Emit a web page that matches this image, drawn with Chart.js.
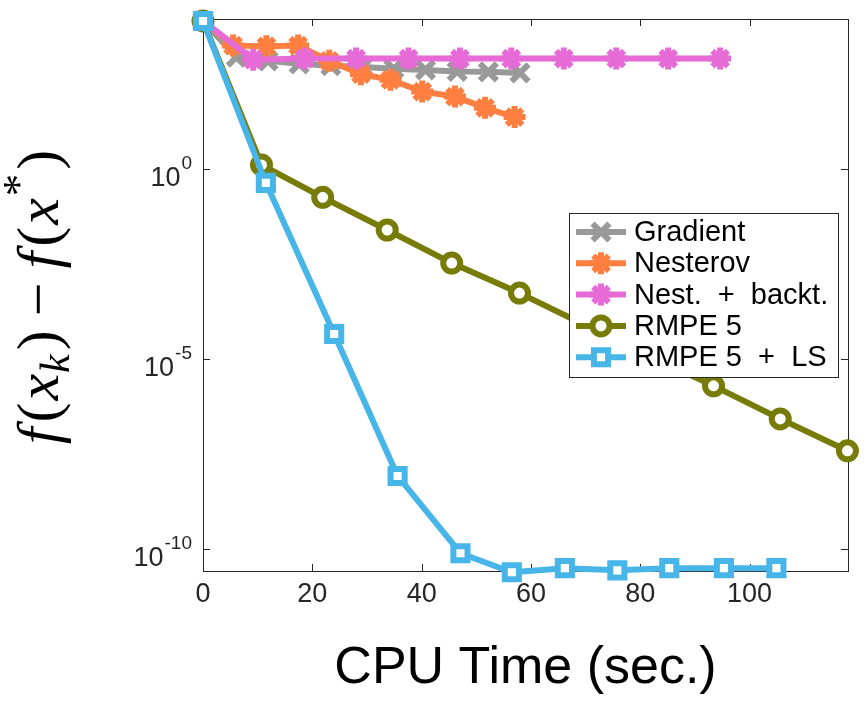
<!DOCTYPE html>
<html>
<head>
<meta charset="utf-8">
<script src="https://cdn.jsdelivr.net/npm/chart.js@4.4.1/dist/chart.umd.min.js"></script>
<style>
  html, body { margin: 0; padding: 0; background: #fff; }
  #wrap { width: 866px; height: 702px; }
</style>
</head>
<body>
<div id="wrap"><canvas id="chart" width="866" height="702"></canvas></div>
<script>
// ── values (x: CPU seconds, y: f(x_k) - f(x*))
const seriesNames = ['Gradient', 'Nesterov', 'Nest.  +  backt.', 'RMPE 5', 'RMPE 5  +  LS'];

const gradTime = [0, 6.1, 11.9, 17.6, 23.4, 29.2, 34.9, 40.7, 46.5, 52.2, 58.0];
const gradVals = [7.9e3, 891, 708, 589, 525, 490, 437, 407, 372, 363, 339];

const nestTime = [0, 5.5, 11.6, 17.4, 23.1, 28.9, 34.3, 40.1, 46.1, 51.6, 57.0];
const nestVals = [7.9e3, 1778, 1698, 1778, 708, 316, 224, 110, 81, 41, 23.4];

const backTime = [0, 9.2, 18.6, 28.0, 37.6, 47.0, 56.4, 66.0, 75.6, 85.1, 94.6];
const backVals = [7.9e3, 759, 813, 813, 813, 813, 813, 813, 813, 813, 813];

const rmpeTime = [0, 10.7, 21.9, 33.7, 45.5, 57.9, 69.6, 81.5, 93.4, 105.6, 117.9];
const rmpeVals = [7.9e3, 1.29, 0.182, 0.0251, 3.39e-3, 5.5e-4, 8.3e-5, 1.26e-5, 2.0e-6, 2.7e-7, 3.9e-8];

const lsTime = [0, 11.5, 24.0, 35.6, 47.1, 56.5, 66.2, 75.8, 85.3, 95.3, 104.9];
const lsVals = [7.9e3, 0.437, 4.6e-5, 8.5e-9, 7.9e-11, 2.5e-11, 3.2e-11, 2.8e-11, 3.2e-11, 3.2e-11, 3.2e-11];

const xTicks = [0, 20, 40, 60, 80, 100];
const yTicks = [1e-10, 1e-5, 1];
const yTickExp = ['-10', '-5', '0'];

const xLabel = 'CPU Time (sec.)';

function pts(t, v) { return t.map((x, i) => ({ x: x, y: v[i] })); }

function series(i, t, v, color, style, r, bw, fill, order) {
  return {
    label: seriesNames[i],
    data: pts(t, v),
    borderColor: color,
    borderWidth: 6,
    borderJoinStyle: 'round',
    pointStyle: style,
    pointRadius: r,
    pointHoverRadius: r,
    pointBorderWidth: bw,
    pointBorderColor: color,
    pointBackgroundColor: fill,
    tension: 0,
    fill: false,
    clip: false,
    order: order
  };
}

// ── box, inner ticks and tick labels
const axesPlugin = {
  id: 'axesBox',
  beforeDatasetsDraw(chart) {
    const { ctx, chartArea: a, scales } = chart;
    ctx.save();
    ctx.strokeStyle = '#262626';
    ctx.lineWidth = 1;
    ctx.strokeRect(a.left + 0.5, a.top + 0.5, a.right - a.left, a.bottom - a.top);
    ctx.beginPath();
    xTicks.forEach(v => {
      const px = Math.round(scales.x.getPixelForValue(v)) + 0.5;
      ctx.moveTo(px, a.bottom); ctx.lineTo(px, a.bottom - 7);
      ctx.moveTo(px, a.top);    ctx.lineTo(px, a.top + 7);
    });
    yTicks.forEach(v => {
      const py = Math.round(scales.y.getPixelForValue(v)) + 0.5;
      ctx.moveTo(a.left, py);  ctx.lineTo(a.left + 7, py);
      ctx.moveTo(a.right, py); ctx.lineTo(a.right - 7, py);
    });
    ctx.stroke();
    ctx.restore();
  },
  afterDraw(chart) {
    const { ctx, chartArea: a, scales } = chart;
    ctx.save();
    ctx.fillStyle = '#262626';
    ctx.textBaseline = 'alphabetic';

    // x tick labels
    ctx.font = '27px "Liberation Sans", Arial, sans-serif';
    ctx.textAlign = 'center';
    xTicks.forEach(v => ctx.fillText(String(v), scales.x.getPixelForValue(v), a.bottom + 31));

    // y tick labels 10^n
    ctx.textAlign = 'left';
    yTicks.forEach((v, i) => {
      const py = scales.y.getPixelForValue(v);
      ctx.font = '19px "Liberation Sans", Arial, sans-serif';
      const ws = ctx.measureText(yTickExp[i]).width;
      ctx.font = '27px "Liberation Sans", Arial, sans-serif';
      const wb = ctx.measureText('10').width;
      const x0 = a.left - 11 - ws - wb - 1;
      ctx.fillText('10', x0, py + 17);
      ctx.font = '19px "Liberation Sans", Arial, sans-serif';
      ctx.fillText(yTickExp[i], x0 + wb + 1, py);
    });

    // x title
    ctx.fillStyle = '#000';
    ctx.font = '52px "Liberation Sans", Arial, sans-serif';
    ctx.textAlign = 'center';
    ctx.fillText(xLabel, (a.left + a.right) / 2, 683);

    // y title  f(x_k) - f(x*)
    const fs = 60;
    const serif = '"Liberation Serif", "Times New Roman", serif';
    const parts = [
      ['f', 'italic', 1, 0, 5], ['(', '', 1, 0, 2], ['x', 'italic', 1, 0, 1],
      ['k', 'italic', 0.7, 0.18, 4], [')', '', 1, 0, 14], ['\u2212', '', 1, 0, 14],
      ['f', 'italic', 1, 0, 5], ['(', '', 1, 0, 2], ['x', 'italic', 1, 0, 2],
      ['*', '', 0.75, -0.42, 4], [')', '', 1, 0, 0]
    ];
    let total = 0;
    parts.forEach(p => {
      ctx.font = p[1] + ' ' + Math.round(fs * p[2]) + 'px ' + serif;
      p.push(ctx.measureText(p[0]).width);
      total += p[5] + p[4];
    });
    ctx.translate(58, 297 + total / 2);
    ctx.rotate(-Math.PI / 2);
    ctx.textAlign = 'left';
    let u = 0;
    parts.forEach(p => {
      ctx.font = p[1] + ' ' + Math.round(fs * p[2]) + 'px ' + serif;
      ctx.fillText(p[0], u, p[3] * fs);
      u += p[5] + p[4];
    });
    ctx.restore();
  }
};

// ── legend box inside the plot
const legendPlugin = {
  id: 'boxLegend',
  afterDatasetsDraw(chart) {
    const { ctx } = chart;
    const box = { x: 569, y: 213, w: 269, h: 164 };
    ctx.save();
    ctx.fillStyle = '#fff';
    ctx.fillRect(box.x, box.y, box.w, box.h);
    ctx.strokeStyle = '#262626';
    ctx.lineWidth = 1;
    ctx.strokeRect(box.x + 0.5, box.y + 0.5, box.w, box.h);
    chart.data.datasets.forEach((ds, i) => {
      const y = 232 + i * 31.3;
      ctx.strokeStyle = ds.borderColor;
      ctx.lineWidth = 6;
      ctx.beginPath();
      ctx.moveTo(576, y); ctx.lineTo(626, y);
      ctx.stroke();
      ctx.fillStyle = ds.pointBackgroundColor;
      ctx.lineWidth = ds.pointBorderWidth;
      if (Chart.helpers && Chart.helpers.drawPoint) {
        Chart.helpers.drawPoint(ctx, {
          pointStyle: ds.pointStyle, radius: ds.pointRadius,
          rotation: 0, borderWidth: ds.pointBorderWidth
        }, 601, y);
      }
      ctx.fillStyle = '#000';
      ctx.font = '29px "Liberation Sans", Arial, sans-serif';
      ctx.textAlign = 'left';
      ctx.textBaseline = 'middle';
      ctx.fillText(ds.label, 634, y + 1);
    });
    ctx.restore();
  }
};

new Chart(document.getElementById('chart'), {
  type: 'line',
  data: {
    datasets: [
      series(0, gradTime, gradVals, '#999999', 'crossRot', 12, 6, '#999999', 5),
      series(1, nestTime, nestVals, '#ff7f40', 'star', 11, 6, '#ff7f40', 4),
      series(2, backTime, backVals, '#e66bd6', 'star', 11, 6, '#e66bd6', 3),
      series(3, rmpeTime, rmpeVals, '#777b07', 'circle', 8.5, 6, '#ffffff', 2),
      series(4, lsTime, lsVals, '#48b5e8', 'rect', 10, 6, '#ffffff', 1)
    ]
  },
  options: {
    responsive: false,
    animation: false,
    devicePixelRatio: 1,
    events: [],
    layout: { padding: { left: 203, right: 14, top: 19, bottom: 131 } },
    plugins: { legend: { display: false }, tooltip: { enabled: false } },
    scales: {
      x: { type: 'linear', min: 0, max: 118, display: false },
      y: { type: 'logarithmic', min: Math.pow(10, -10.57), max: Math.pow(10, 3.95), display: false }
    }
  },
  plugins: [axesPlugin, legendPlugin]
});
</script>
</body>
</html>
